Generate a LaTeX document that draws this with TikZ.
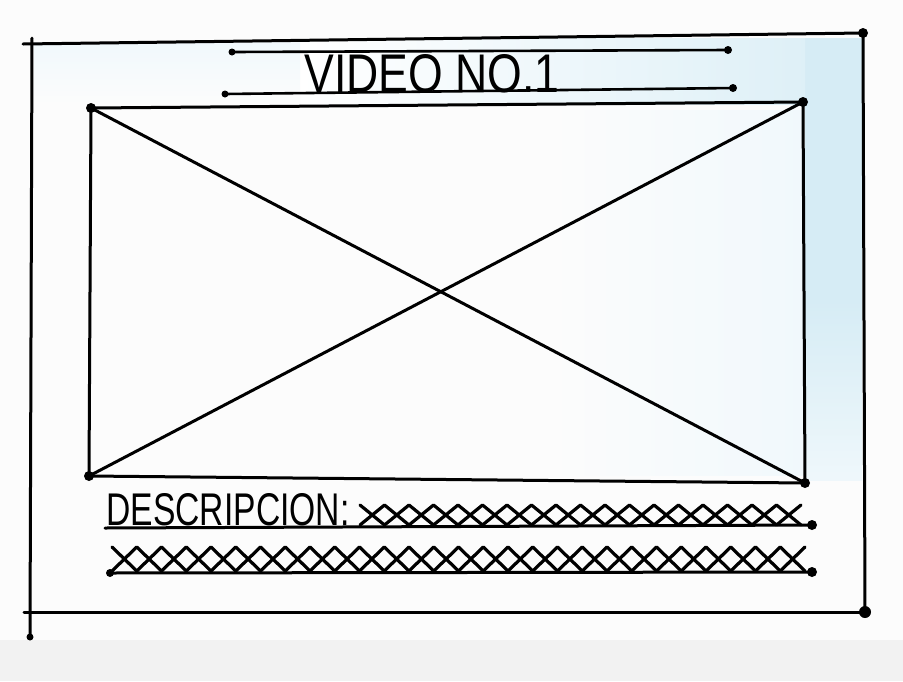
\documentclass[tikz,border=0pt]{standalone}
\usepackage{fontspec}
\setmainfont{Liberation Sans}
\definecolor{wash}{RGB}{214,236,245}
\definecolor{paper}{RGB}{252,252,252}
\begin{document}
\begin{tikzpicture}[x=1pt,y=-1pt,
  ink/.style={line width=3pt,black,line cap=round,line join=round},
  thinink/.style={line width=2.6pt,black,line cap=round},
  zig/.style={line width=3.2pt,black,line join=round,line cap=round},
  dot/.style={circle,fill=black,inner sep=0pt,minimum size=10pt},
  bigdot/.style={circle,fill=black,inner sep=0pt,minimum size=12pt},
  label/.style={inner sep=0pt,anchor=center}]
\useasboundingbox (0,0) rectangle (903,681);
% paper washes
\fill[paper] (0,0) rectangle (903,681);
\fill[wash] (805,38) rectangle (862,300);
\shade[top color=wash,bottom color=wash!40] (805,300) rectangle (862,480);
\shade[left color=white,right color=wash!80] (300,38) rectangle (805,104);
\shade[top color=wash!35,bottom color=paper] (34,42) rectangle (300,104);
\shade[left color=paper,right color=wash!35] (550,110) rectangle (803,475);
\fill[black!5] (0,640) rectangle (903,681);
% outer frame
\coordinate (oTLh) at (23,44);
\coordinate (oTR) at (863,33);
\coordinate (oTLv) at (32,38);
\coordinate (oBLv) at (30,637);
\coordinate (oBLh) at (24,612);
\coordinate (oBR) at (865,612);
\draw[ink] (oTLh) -- (oTR);
\draw[ink] (oTLv) -- (oBLv);
\draw[ink] (oTR) -- (oBR);
\draw[ink] (oBLh) -- (oBR);
\node[dot] (dOTR) at (oTR) {};
\node[bigdot] (dOBR) at (oBR) {};
\node[dot,minimum size=7pt] (dOBL) at (oBLv) {};
% title lines
\coordinate (t1a) at (232,52);
\coordinate (t1b) at (728,50);
\coordinate (t2a) at (225,94);
\coordinate (t2b) at (733,88);
\draw[thinink] (t1a) -- (t1b);
\draw[thinink] (t2a) -- (t2b);
\node[dot,minimum size=7pt] at (t1a) {};
\node[dot,minimum size=8pt] at (t1b) {};
\node[dot,minimum size=7pt] at (t2a) {};
\node[dot,minimum size=8pt] at (t2b) {};
\node[label] (title) at (432,74) {\resizebox{255pt}{38pt}{VIDEO NO.1}};
% inner video box
\coordinate (iTL) at (91,108);
\coordinate (iTR) at (803,102);
\coordinate (iBR) at (805,483);
\coordinate (iBL) at (89,476);
\draw[ink] (iTL) -- (iTR) -- (iBR) -- (iBL) -- cycle;
\draw[ink] (iTL) -- (iBR);
\draw[ink] (iTR) -- (iBL);
\foreach \c in {iTL,iTR,iBR,iBL} \node[dot] at (\c) {};
% description
\node[label] (desc) at (228,510) {\resizebox{243pt}{32pt}{DESCRIPCION:}};
\coordinate (d1a) at (105,528);
\coordinate (d1b) at (812,525);
\coordinate (d2a) at (110,573);
\coordinate (d2b) at (812,572);
\draw[ink] (d1a) -- (d1b);
\draw[ink] (d2a) -- (d2b);
\node[dot] at (d1b) {};
\node[dot] at (d2b) {};
\node[dot,minimum size=8pt] at (d2a) {};
% crosses row 1
\draw[zig] (360,525) \foreach \i in {1,...,9} { -- ({360+\i*49-24.5},505) -- ({360+\i*49},525) };
\draw[zig] (360,505) \foreach \i in {1,...,9} { -- ({360+\i*49-24.5},525) -- ({360+\i*49},505) };
% crosses row 2
\draw[zig] (112,571) \foreach \i in {1,...,14} { -- ({112+\i*49.5-24.75},547) -- ({112+\i*49.5},571) };
\draw[zig] (112,547) \foreach \i in {1,...,14} { -- ({112+\i*49.5-24.75},571) -- ({112+\i*49.5},547) };
\end{tikzpicture}
\end{document}
